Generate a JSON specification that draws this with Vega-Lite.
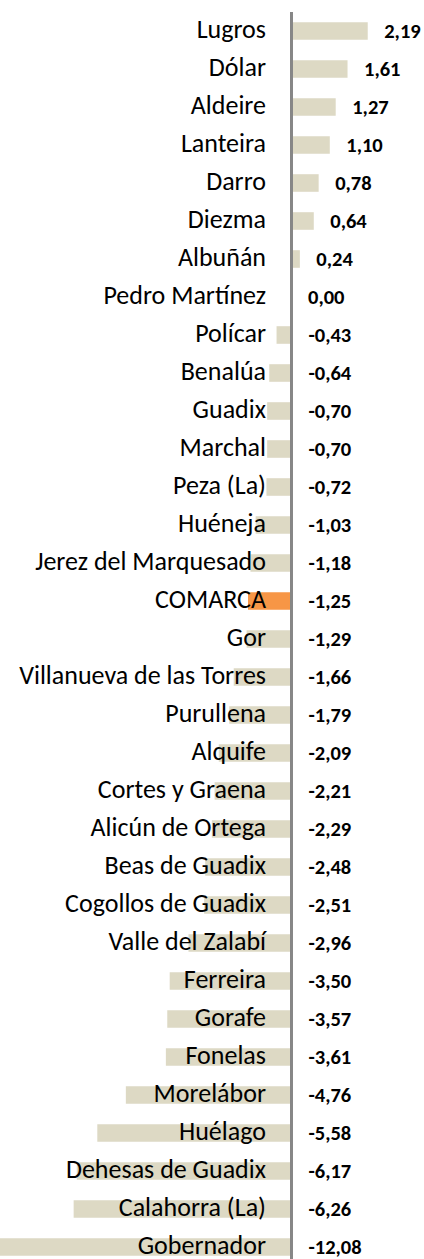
{
  "$schema": "https://vega.github.io/schema/vega-lite/v6.json",
  "width": 424,
  "height": 1247,
  "autosize": {"type": "none"},
  "padding": {"top": 12, "left": 0, "right": 0, "bottom": 0},
  "background": "white",
  "config": {
    "view": {"stroke": null},
    "locale": {"number": {"decimal": ",", "thousands": ".", "grouping": [3], "currency": ["", " €"], "minus": "-"}}
  },
  "data": {"values": [
    {"municipio": "Lugros", "valor": 2.19},
    {"municipio": "Dólar", "valor": 1.61},
    {"municipio": "Aldeire", "valor": 1.27},
    {"municipio": "Lanteira", "valor": 1.10},
    {"municipio": "Darro", "valor": 0.78},
    {"municipio": "Diezma", "valor": 0.64},
    {"municipio": "Albuñán", "valor": 0.24},
    {"municipio": "Pedro Martínez", "valor": 0.00},
    {"municipio": "Polícar", "valor": -0.43},
    {"municipio": "Benalúa", "valor": -0.64},
    {"municipio": "Guadix", "valor": -0.70},
    {"municipio": "Marchal", "valor": -0.70},
    {"municipio": "Peza (La)", "valor": -0.72},
    {"municipio": "Huéneja", "valor": -1.03},
    {"municipio": "Jerez del Marquesado", "valor": -1.18},
    {"municipio": "COMARCA", "valor": -1.25},
    {"municipio": "Gor", "valor": -1.29},
    {"municipio": "Villanueva de las Torres", "valor": -1.66},
    {"municipio": "Purullena", "valor": -1.79},
    {"municipio": "Alquife", "valor": -2.09},
    {"municipio": "Cortes y Graena", "valor": -2.21},
    {"municipio": "Alicún de Ortega", "valor": -2.29},
    {"municipio": "Beas de Guadix", "valor": -2.48},
    {"municipio": "Cogollos de Guadix", "valor": -2.51},
    {"municipio": "Valle del Zalabí", "valor": -2.96},
    {"municipio": "Ferreira", "valor": -3.50},
    {"municipio": "Gorafe", "valor": -3.57},
    {"municipio": "Fonelas", "valor": -3.61},
    {"municipio": "Morelábor", "valor": -4.76},
    {"municipio": "Huélago", "valor": -5.58},
    {"municipio": "Dehesas de Guadix", "valor": -6.17},
    {"municipio": "Calahorra (La)", "valor": -6.26},
    {"municipio": "Gobernador", "valor": -12.08}
  ]},
  "encoding": {
    "y": {
      "field": "municipio", "type": "nominal", "sort": null, "axis": null,
      "scale": {"range": [0, 1254], "paddingInner": 0.537, "paddingOuter": 0.2685}
    }
  },
  "layer": [
    {
      "mark": {"type": "bar", "clip": true},
      "encoding": {
        "x": {"field": "valor", "type": "quantitative", "axis": null,
              "scale": {"domain": [-8.376, 3.807], "nice": false, "zero": false}},
        "color": {
          "condition": {"test": "datum.municipio === 'COMARCA'", "value": "#F79646"},
          "value": "#DDD9C4"
        }
      }
    },
    {
      "mark": {"type": "rule", "color": "#878787", "strokeWidth": 1.8},
      "encoding": {"x": {"datum": 0}, "y": null}
    },
    {
      "mark": {"type": "text", "align": "right", "baseline": "middle", "dx": -25.5, "dy": -1, "font": "Carlito, Lato", "fontSize": 26, "color": "#000000"},
      "encoding": {"x": {"datum": 0}, "text": {"field": "municipio"}}
    },
    {
      "transform": [{"filter": "datum.valor >= 0"}],
      "mark": {"type": "text", "align": "left", "baseline": "middle", "dx": 16.5, "dy": 1, "font": "Carlito, Lato", "fontSize": 20.5, "fontWeight": "bold", "color": "#000000"},
      "encoding": {"x": {"field": "valor", "type": "quantitative"}, "text": {"field": "valor", "type": "quantitative", "format": ".2f"}}
    },
    {
      "transform": [{"filter": "datum.valor < 0"}],
      "mark": {"type": "text", "align": "left", "baseline": "middle", "dx": 17, "dy": 1, "font": "Carlito, Lato", "fontSize": 20.5, "fontWeight": "bold", "color": "#000000"},
      "encoding": {"x": {"datum": 0}, "text": {"field": "valor", "type": "quantitative", "format": ".2f"}}
    }
  ]
}
